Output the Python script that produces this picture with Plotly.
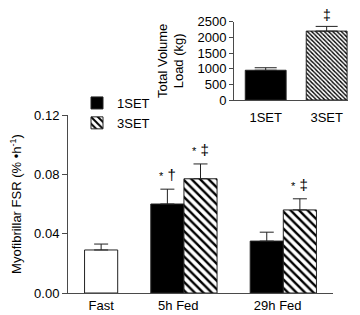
import plotly.graph_objects as go

# ---------------- data ----------------
categories = ["Fast", "5h Fed", "29h Fed"]
fast_fsr = [0.029]
fast_err = [0.004]
set1_fsr = [0.060, 0.035]          # 5h Fed, 29h Fed
set1_err = [0.010, 0.006]
set3_fsr = [0.077, 0.056]
set3_err = [0.010, 0.0075]
sig_1set = ["* †", ""]
sig_3set = ["* ‡", "* ‡"]

main_ticks = [0.0, 0.04, 0.08, 0.12]
main_ticklabels = ["0.00", "0.04", "0.08", "0.12"]

volume_groups = ["1SET", "3SET"]
volume_load = [950, 2200]
volume_err = [80, 150]
volume_sig = ["", "‡"]
inset_ticks = [0, 500, 1000, 1500, 2000, 2500]

# ------------- layout helpers -------------
FONT = "Liberation Sans, Arial, Helvetica, sans-serif"
OFF = 8                      # page body margin offset
W, H = 360 - OFF, 315 - OFF
AX = "#4a4a4a"

group_sizes = [1, 2, 2]
centers = []
start = -0.5
for n in group_sizes:
    centers.append(start + n / 2)
    start += n + 1
x_range = [-1.0, start - 0.5]
fed_centers = centers[1:]
x1 = [c - 0.5 for c in fed_centers]
x3 = [c + 0.5 for c in fed_centers]
label_pos = [c - (0.17 if n > 1 else 0.0) for c, n in zip(centers, group_sizes)]


def sig_text(s):
    parts = s.split(" ")
    if parts[0] == "*":
        rest = " ".join(parts[1:])
        return "<span style='font-size:11px'>*</span>" + (" " + rest if rest else "")
    return s


def px_x(a, b):
    return [(a - OFF) / W, (b - OFF) / W]


def px_y(top, bottom):
    return [1 - (bottom - OFF) / H, 1 - (top - OFF) / H]


fig = go.Figure()

line = dict(color="#222222", width=1)

fig.add_trace(go.Bar(
    x=[centers[0]], y=fast_fsr, width=1.0,
    marker=dict(color="white", line=line),
    error_y=dict(type="data", symmetric=False, array=fast_err,
                 arrayminus=[0] * len(fast_err), color="#222", thickness=1, width=7),
    showlegend=False, xaxis="x", yaxis="y", name="Fast"))

fig.add_trace(go.Bar(
    x=x1, y=set1_fsr, width=1.0, name="1SET",
    marker=dict(color="black", line=line),
    error_y=dict(type="data", symmetric=False, array=set1_err,
                 arrayminus=[0] * len(set1_err), color="#222", thickness=1, width=7),
    xaxis="x", yaxis="y"))

fig.add_trace(go.Bar(
    x=x3, y=set3_fsr, width=1.0, name="3SET",
    marker=dict(color="white", line=line,
                pattern=dict(shape="\\", fgcolor="black", bgcolor="white",
                             size=6, solidity=0.4)),
    error_y=dict(type="data", symmetric=False, array=set3_err,
                 arrayminus=[0] * len(set3_err), color="#222", thickness=1, width=7),
    xaxis="x", yaxis="y"))

# inset
fig.add_trace(go.Bar(
    x=[0], y=[volume_load[0]], width=0.67,
    marker=dict(color="black", line=line),
    error_y=dict(type="data", symmetric=False, array=[volume_err[0]],
                 arrayminus=[0], color="#222", thickness=1, width=11),
    showlegend=False, xaxis="x2", yaxis="y2"))
fig.add_trace(go.Bar(
    x=[1], y=[volume_load[1]], width=0.67,
    marker=dict(color="white", line=line,
                pattern=dict(shape="\\", fgcolor="black", bgcolor="white",
                             size=3, solidity=0.45)),
    error_y=dict(type="data", symmetric=False, array=[volume_err[1]],
                 arrayminus=[0], color="#222", thickness=1, width=11),
    showlegend=False, xaxis="x2", yaxis="y2"))

annotations = []
for xs, ys, es, ss in [(x1, set1_fsr, set1_err, sig_1set), (x3, set3_fsr, set3_err, sig_3set)]:
    for xv, yv, ev, sv in zip(xs, ys, es, ss):
        if sv:
            annotations.append(dict(x=xv, y=yv + ev, xref="x", yref="y", text=sig_text(sv),
                                    showarrow=False, yanchor="bottom", yshift=4,
                                    font=dict(family=FONT, size=15, color="black")))
for i, (yv, ev, sv) in enumerate(zip(volume_load, volume_err, volume_sig)):
    if sv:
        annotations.append(dict(x=i, y=yv + ev, xref="x2", yref="y2", text=sv,
                                showarrow=False, yanchor="bottom", yshift=1,
                                font=dict(family=FONT, size=14, color="black")))

axis_common = dict(showline=True, linecolor=AX, linewidth=1, showgrid=False,
                   zeroline=False, automargin=False, mirror=False)

fig.update_layout(
    template="none",
    width=W, height=H,
    margin=dict(l=0, r=0, t=0, b=0),
    paper_bgcolor="white", plot_bgcolor="white",
    font=dict(family=FONT, size=13, color="black"),
    barmode="overlay",
    showlegend=True,
    legend=dict(x=(77 - OFF) / W, y=1 - (88 - OFF) / H, xanchor="left", yanchor="top",
                bgcolor="rgba(0,0,0,0)", font=dict(size=13), tracegroupgap=0),
    xaxis=dict(domain=px_x(68, 333), range=x_range, tickmode="array",
               tickvals=label_pos, ticktext=categories, ticks="",
               anchor="y", **axis_common),
    yaxis=dict(domain=px_y(115, 293), range=[0, 0.12], tickmode="array",
               tickvals=main_ticks, ticktext=main_ticklabels, ticks="outside",
               ticklen=5, tickcolor=AX, anchor="x",
               title=dict(text="Myofibrillar FSR (% •h<sup>-1</sup>)", standoff=11,
                          font=dict(size=13)),
               **axis_common),
    xaxis2=dict(domain=px_x(234, 348), range=[-0.52, 1.35], tickmode="array",
                tickvals=[0, 1], ticktext=volume_groups, ticks="outside",
                ticklen=5, tickcolor="rgba(0,0,0,0)", anchor="y2", **axis_common),
    yaxis2=dict(domain=px_y(21.7, 100), range=[0, 2500], tickmode="array",
                tickvals=inset_ticks, ticks="outside", ticklen=4, tickcolor=AX,
                anchor="x2",
                title=dict(text="Total Volume<br>Load (kg)", standoff=10,
                           font=dict(size=13)),
                **axis_common),
    annotations=annotations,
)

fig.write_html("out.html")
